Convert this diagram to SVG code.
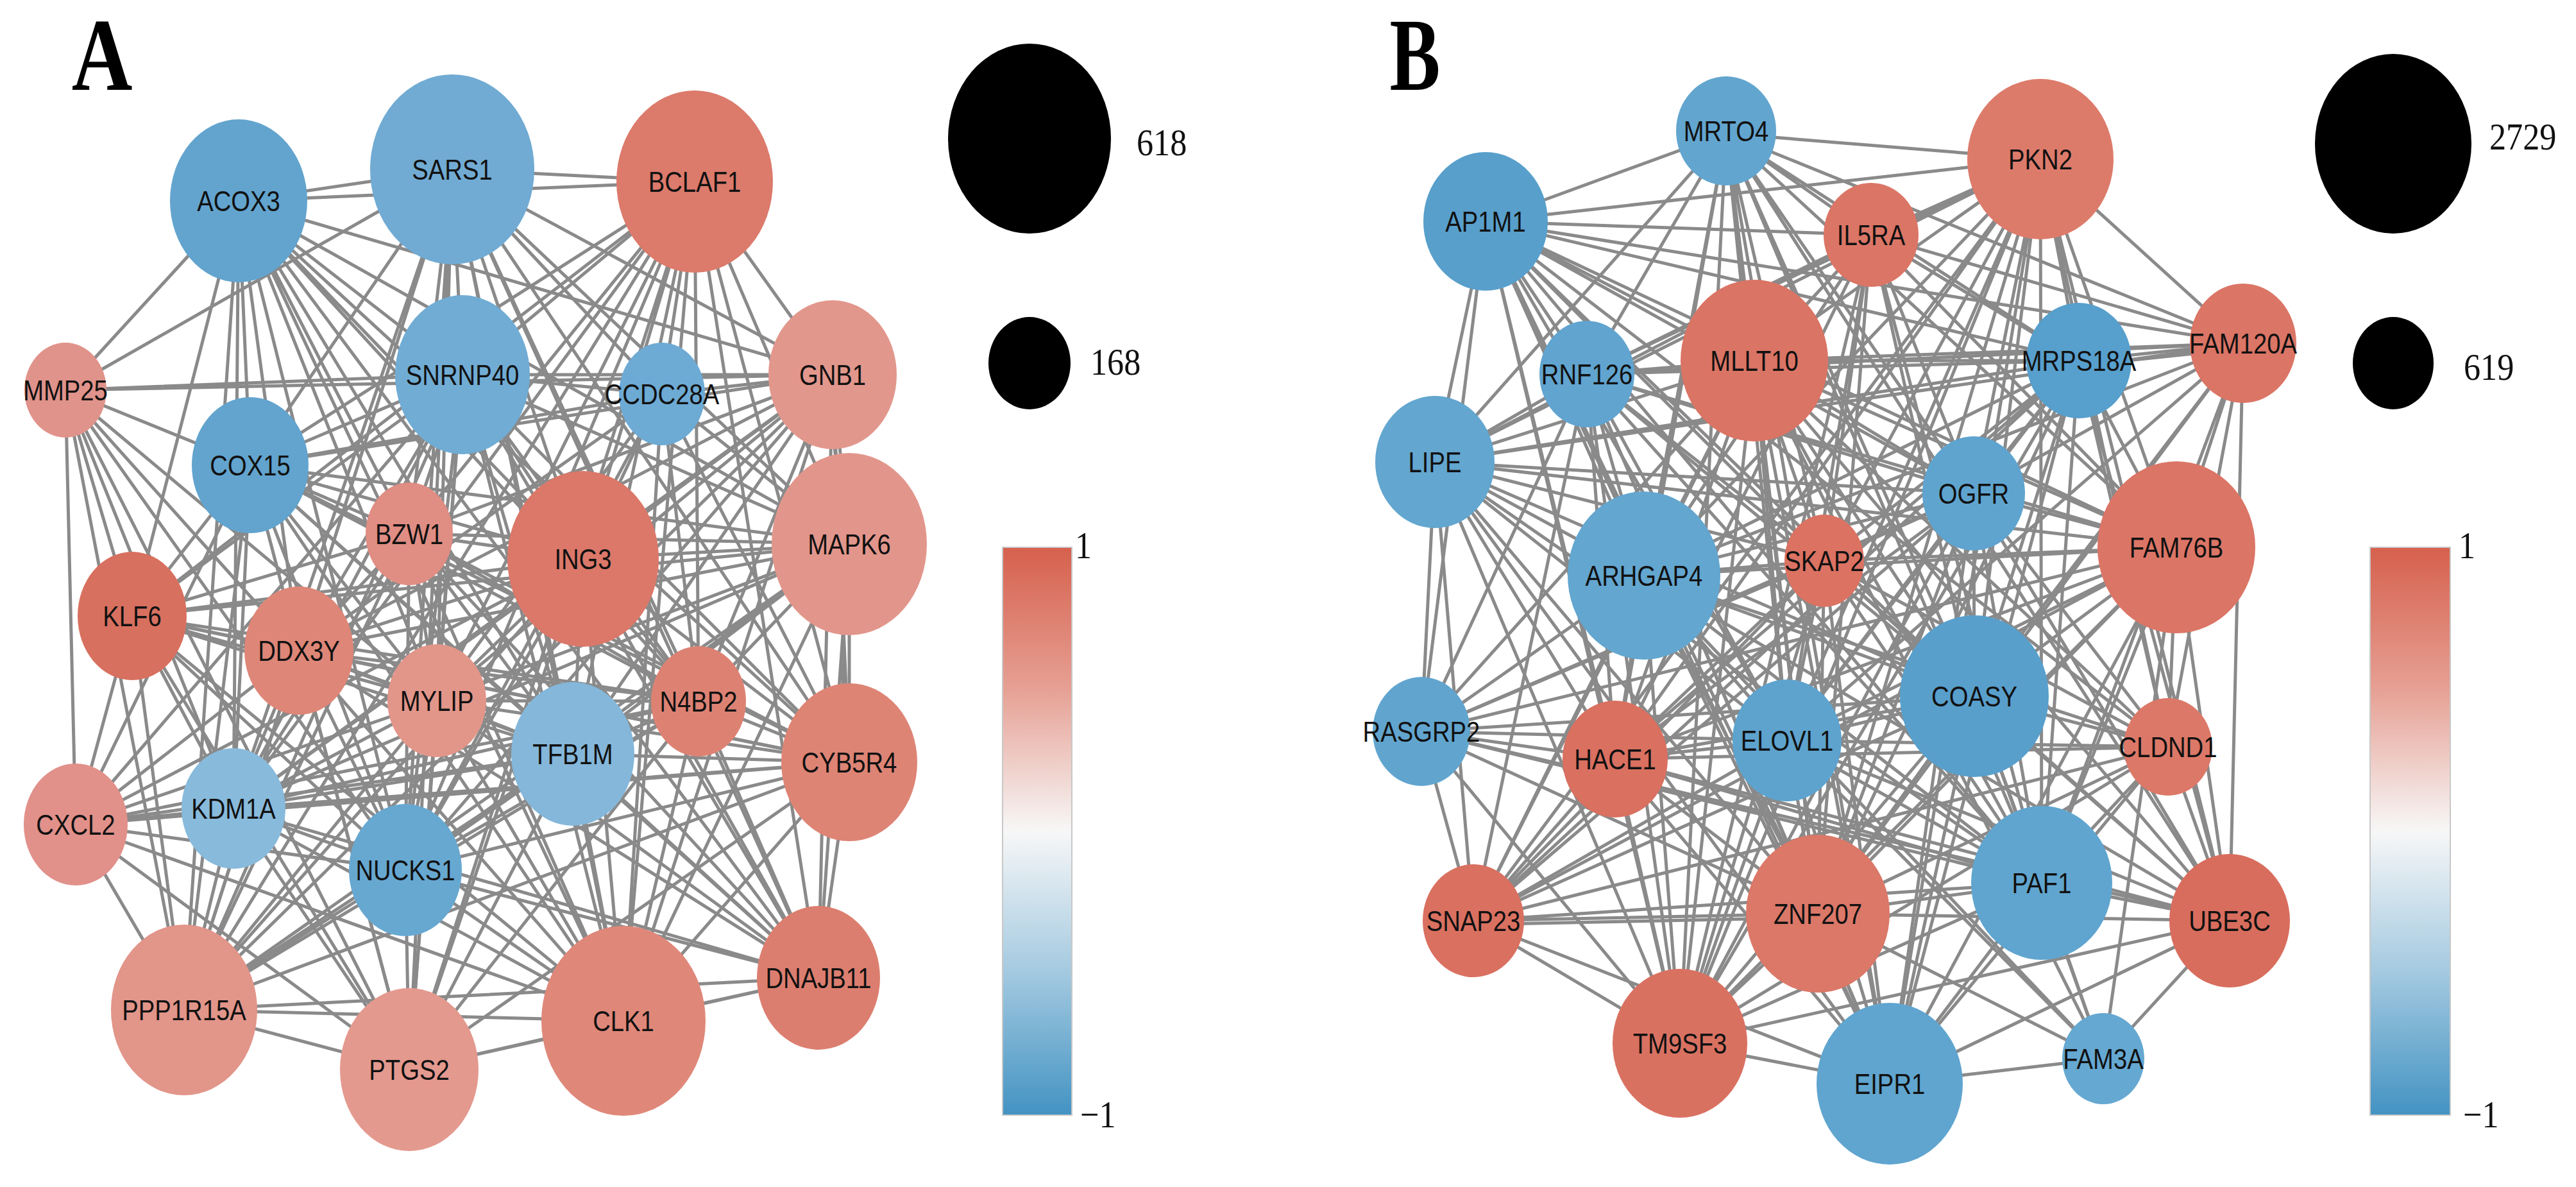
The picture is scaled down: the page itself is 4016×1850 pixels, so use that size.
<svg xmlns="http://www.w3.org/2000/svg" width="4016" height="1850" viewBox="0 0 4016 1850">
<defs>
<linearGradient id="cb" x1="0" y1="0" x2="0" y2="1">
<stop offset="0" stop-color="#D6604D"/>
<stop offset="0.25" stop-color="#E6A094"/>
<stop offset="0.5" stop-color="#F7F7F7"/>
<stop offset="0.75" stop-color="#A3C9E0"/>
<stop offset="1" stop-color="#4393C3"/>
</linearGradient>
<style>
.e{fill:none;stroke:#8A8A8A;stroke-width:5}
.n text{font-family:"Liberation Sans",Arial,sans-serif;font-size:45px;text-anchor:middle;fill:#111}
.lg{font-family:"Liberation Serif","Times New Roman",serif;font-size:60px;fill:#111}
.pl{font-family:"Liberation Serif","Times New Roman",serif;font-weight:bold;font-size:160px;text-anchor:middle;fill:#000}
.cbar{stroke:#C8C8C8;stroke-width:2}
</style>
</defs>
<rect width="4016" height="1850" fill="#FFFFFF"/>
<text class="pl" transform="translate(159 140) scale(.82 1)">A</text>
<text class="pl" transform="translate(2206 140) scale(.74 1)">B</text>
<g id="connectors">
<path class="e" d="M372 313L705 264M372 313L1083 283M372 313L102 608M372 313L721 584M372 313L1298 584M372 313L390 725M372 313L638 832M372 313L909 871M372 313L1324 848M372 313L206 960M372 313L466 1014M372 313L681 1092M372 313L893 1175M372 313L1089 1093M372 313L1324 1188M372 313L364 1260M372 313L632 1356M372 313L287 1574M372 313L972 1591M372 313L1276 1524"/>
<path class="e" d="M705 264L1083 283M705 264L102 608M705 264L721 584M705 264L1032 614M705 264L1298 584M705 264L390 725M705 264L638 832M705 264L909 871M705 264L1324 848M705 264L466 1014M705 264L681 1092M705 264L893 1175M705 264L1089 1093M705 264L1324 1188M705 264L364 1260M705 264L632 1356M705 264L287 1574M705 264L638 1667M705 264L972 1591M705 264L1276 1524"/>
<path class="e" d="M1083 283L721 584M1083 283L1032 614M1083 283L1298 584M1083 283L390 725M1083 283L638 832M1083 283L909 871M1083 283L1324 848M1083 283L206 960M1083 283L681 1092M1083 283L893 1175M1083 283L1089 1093M1083 283L1324 1188M1083 283L364 1260M1083 283L632 1356M1083 283L287 1574M1083 283L638 1667M1083 283L972 1591M1083 283L1276 1524"/>
<path class="e" d="M102 608L721 584M102 608L1298 584M102 608L390 725M102 608L206 960M102 608L466 1014M102 608L681 1092M102 608L118 1285M102 608L364 1260M102 608L632 1356M102 608L287 1574M102 608L638 1667"/>
<path class="e" d="M721 584L1032 614M721 584L1298 584M721 584L390 725M721 584L638 832M721 584L909 871M721 584L1324 848M721 584L206 960M721 584L466 1014M721 584L681 1092M721 584L893 1175M721 584L1089 1093M721 584L1324 1188M721 584L118 1285M721 584L364 1260M721 584L632 1356M721 584L287 1574M721 584L638 1667M721 584L972 1591M721 584L1276 1524"/>
<path class="e" d="M1032 614L1298 584M1032 614L390 725M1032 614L909 871M1032 614L1324 848M1032 614L466 1014M1032 614L681 1092M1032 614L1089 1093M1032 614L1324 1188M1032 614L632 1356M1032 614L972 1591"/>
<path class="e" d="M1298 584L390 725M1298 584L638 832M1298 584L909 871M1298 584L1324 848M1290 584L1316 848M1298 584L466 1014M1298 584L681 1092M1298 584L893 1175M1298 584L1089 1093M1298 584L1324 1188M1298 584L364 1260M1298 584L632 1356M1298 584L287 1574M1298 584L972 1591M1298 584L1276 1524"/>
<path class="e" d="M390 725L638 832M390 725L909 871M390 725L1324 848M390 725L206 960M390 725L466 1014M390 725L681 1092M390 725L893 1175M390 725L1089 1093M390 725L1324 1188M390 725L118 1285M390 725L364 1260M390 725L632 1356M390 725L287 1574M390 725L638 1667M390 725L972 1591M390 725L1276 1524"/>
<path class="e" d="M638 832L909 871M638 832L1324 848M638 832L206 960M638 832L466 1014M638 832L681 1092M638 832L893 1175M638 832L1089 1093M638 832L1324 1188M638 832L364 1260M638 832L632 1356M638 832L287 1574M638 832L972 1591M638 832L1276 1524"/>
<path class="e" d="M909 871L1324 848M909 871L206 960M909 871L466 1014M909 871L681 1092M909 871L893 1175M909 871L1089 1093M909 871L1324 1188M909 871L118 1285M909 871L364 1260M909 871L632 1356M909 871L287 1574M909 871L638 1667M909 871L972 1591M909 871L1276 1524"/>
<path class="e" d="M1324 848L206 960M1324 848L466 1014M1324 848L681 1092M1324 848L893 1175M1324 848L1089 1093M1324 848L1324 1188M1314 848L1314 1188M1324 848L364 1260M1324 848L632 1356M1324 848L287 1574M1324 848L972 1591M1324 848L1276 1524"/>
<path class="e" d="M206 960L466 1014M206 960L681 1092M206 960L893 1175M206 960L1089 1093M206 960L1324 1188M206 960L118 1285M206 960L364 1260M206 960L632 1356M206 960L287 1574M206 960L638 1667M206 960L972 1591"/>
<path class="e" d="M466 1014L681 1092M466 1014L893 1175M466 1014L1089 1093M466 1014L1324 1188M466 1014L118 1285M466 1014L364 1260M466 1014L632 1356M466 1014L287 1574M466 1014L638 1667M466 1014L972 1591M466 1014L1276 1524"/>
<path class="e" d="M681 1092L893 1175M681 1092L1089 1093M681 1092L1324 1188M681 1092L118 1285M681 1092L364 1260M681 1092L632 1356M681 1092L287 1574M681 1092L638 1667M681 1092L972 1591M681 1092L1276 1524"/>
<path class="e" d="M893 1175L1089 1093M893 1175L1324 1188M893 1175L118 1285M893 1175L364 1260M893 1175L632 1356M893 1175L287 1574M893 1175L638 1667M893 1175L972 1591M893 1175L1276 1524"/>
<path class="e" d="M1089 1093L1324 1188M1089 1093L118 1285M1089 1093L364 1260M1089 1093L632 1356M1089 1093L287 1574M1089 1093L638 1667M1089 1093L972 1591M1089 1093L1276 1524"/>
<path class="e" d="M1324 1188L118 1285M1324 1188L364 1260M1324 1188L632 1356M1324 1188L287 1574M1324 1188L638 1667M1324 1188L972 1591M1324 1188L1276 1524"/>
<path class="e" d="M118 1285L364 1260M118 1285L632 1356M118 1285L287 1574M118 1285L638 1667M118 1285L972 1591"/>
<path class="e" d="M364 1260L632 1356M364 1260L287 1574M364 1260L638 1667M364 1260L972 1591M364 1260L1276 1524"/>
<path class="e" d="M632 1356L287 1574M632 1356L638 1667M632 1356L972 1591M632 1356L1276 1524"/>
<path class="e" d="M287 1574L638 1667M287 1574L972 1591M287 1574L1276 1524M638 1667L972 1591M638 1667L1276 1524M972 1591L1276 1524"/>

<path class="e" d="M2691 208L2316 345M2691 208L3181 248M2691 208L2917 366M2691 208L2735 562M2691 208L2474 583M2691 208L3241 562M2691 208L3497 535M2691 208L2237 720M2691 208L3077 769M2691 208L2563 897M2691 208L2844 874M2691 208L3393 853M2691 208L2518 1183M2691 208L2786 1154M2691 208L3078 1085M2691 208L2834 1424M2691 208L3183 1376M2691 208L3476 1435M2691 208L2619 1626M2691 208L2946 1689"/>
<path class="e" d="M2316 345L3181 248M2316 345L2917 366M2316 345L2735 562M2316 345L2474 583M2316 345L3241 562M2316 345L3497 535M2316 345L2237 720M2316 345L3077 769M2316 345L2563 897M2316 345L2844 874M2316 345L3393 853M2316 345L2216 1140M2316 345L2518 1183M2316 345L2786 1154M2316 345L3078 1085M2316 345L3380 1164M2316 345L2834 1424M2316 345L3183 1376M2316 345L2619 1626M2316 345L2946 1689"/>
<path class="e" d="M3181 248L2917 366M3181 248L2735 562M3181 248L2474 583M3181 248L3241 562M3181 248L3497 535M3181 248L2237 720M3181 248L3077 769M3181 248L2563 897M3181 248L2844 874M3181 248L3393 853M3181 248L2518 1183M3181 248L2786 1154M3181 248L3078 1085M3181 248L3380 1164M3181 248L2297 1435M3181 248L2834 1424M3181 248L3183 1376M3181 248L3476 1435M3181 248L2619 1626M3181 248L2946 1689"/>
<path class="e" d="M2917 366L2735 562M2917 366L2474 583M2917 366L3241 562M2917 366L3497 535M2917 366L2237 720M2917 366L3077 769M2917 366L2563 897M2917 366L2844 874M2917 366L3393 853M2917 366L2518 1183M2917 366L2786 1154M2917 366L3078 1085M2917 366L2834 1424M2917 366L3183 1376M2917 366L2619 1626"/>
<path class="e" d="M2735 562L2474 583M2735 562L3241 562M2735 562L3497 535M2735 562L2237 720M2735 562L3077 769M2735 562L2563 897M2735 562L2844 874M2735 562L3393 853M2735 562L2216 1140M2735 562L2518 1183M2735 562L2786 1154M2735 562L3078 1085M2735 562L3380 1164M2735 562L2297 1435M2735 562L2834 1424M2735 562L3183 1376M2735 562L3476 1435M2735 562L2619 1626M2735 562L2946 1689M2735 562L3279 1650"/>
<path class="e" d="M2474 583L3241 562M2474 583L3497 535M2474 583L2237 720M2474 583L3077 769M2474 583L2563 897M2474 583L2844 874M2474 583L3393 853M2474 583L2216 1140M2474 583L2518 1183M2474 583L2786 1154M2474 583L3078 1085M2474 583L2297 1435M2474 583L2834 1424M2474 583L3183 1376M2474 583L2619 1626M2474 583L2946 1689"/>
<path class="e" d="M3241 562L3497 535M3241 570L3497 543M3241 562L2237 720M3241 562L3077 769M3241 562L2563 897M3241 562L2844 874M3241 562L3393 853M3241 562L2518 1183M3241 562L2786 1154M3241 562L3078 1085M3241 562L3380 1164M3241 562L2297 1435M3241 562L2834 1424M3241 562L3183 1376M3241 562L3476 1435M3241 562L2619 1626M3241 562L2946 1689"/>
<path class="e" d="M3497 535L2237 720M3497 535L3077 769M3497 535L2563 897M3497 535L3393 853M3497 535L2786 1154M3497 535L3078 1085M3497 535L3380 1164M3497 535L2834 1424M3497 535L3183 1376M3497 535L3476 1435"/>
<path class="e" d="M2237 720L3077 769M2237 720L2563 897M2237 720L2844 874M2237 720L3393 853M2237 720L2216 1140M2237 720L2518 1183M2237 720L2786 1154M2237 720L3078 1085M2237 720L2297 1435M2237 720L2834 1424M2237 720L3183 1376M2237 720L2619 1626M2237 720L2946 1689"/>
<path class="e" d="M3077 769L2563 897M3077 769L2844 874M3077 769L3393 853M3077 769L2216 1140M3077 769L2518 1183M3077 769L2786 1154M3077 769L3078 1085M3077 769L3380 1164M3077 769L2297 1435M3077 769L2834 1424M3077 769L3183 1376M3077 769L3476 1435M3077 769L2619 1626M3077 769L2946 1689"/>
<path class="e" d="M2563 897L2844 874M2563 897L3393 853M2563 897L2216 1140M2563 897L2518 1183M2563 897L2786 1154M2563 897L3078 1085M2563 897L3380 1164M2563 897L2297 1435M2563 897L2834 1424M2563 897L3183 1376M2563 897L3476 1435M2563 897L2619 1626M2563 897L2946 1689M2563 897L3279 1650"/>
<path class="e" d="M2844 874L3393 853M2844 874L2216 1140M2844 874L2518 1183M2844 874L2786 1154M2844 874L3078 1085M2844 874L3380 1164M2844 874L2297 1435M2844 874L2834 1424M2844 874L3183 1376M2844 874L3476 1435M2844 874L2619 1626M2844 874L2946 1689"/>
<path class="e" d="M3393 853L2216 1140M3393 853L2518 1183M3393 853L2786 1154M3393 853L3078 1085M3393 853L3380 1164M3393 853L2297 1435M3393 853L2834 1424M3393 853L3183 1376M3393 853L3476 1435M3393 853L2619 1626M3393 853L2946 1689M3393 853L3279 1650"/>
<path class="e" d="M2216 1140L2518 1183M2216 1140L2786 1154M2216 1140L3078 1085M2216 1140L2297 1435M2216 1140L2834 1424M2216 1140L3183 1376M2216 1140L3476 1435M2216 1140L2619 1626"/>
<path class="e" d="M2518 1183L2786 1154M2518 1183L3078 1085M2518 1183L3380 1164M2518 1183L2297 1435M2518 1183L2834 1424M2518 1183L3183 1376M2518 1183L3476 1435M2518 1183L2619 1626M2518 1183L2946 1689"/>
<path class="e" d="M2786 1154L3078 1085M2786 1154L3380 1164M2786 1154L2297 1435M2786 1154L2834 1424M2786 1154L3183 1376M2786 1154L3476 1435M2786 1154L2619 1626M2786 1154L2946 1689M2786 1154L3279 1650"/>
<path class="e" d="M3078 1085L3380 1164M3078 1085L2297 1435M3078 1085L2834 1424M3078 1085L3183 1376M3078 1085L3476 1435M3078 1085L2619 1626M3078 1085L2946 1689M3078 1085L3279 1650"/>
<path class="e" d="M3380 1164L2297 1435M3380 1164L2834 1424M3380 1164L3183 1376M3380 1164L3476 1435M3380 1164L2619 1626M3380 1164L2946 1689"/>
<path class="e" d="M2297 1435L2834 1424M2297 1441L2834 1430M2297 1435L3183 1376M2297 1435L2619 1626M2297 1435L2946 1689M2834 1424L3183 1376M2834 1424L3476 1435M2834 1424L2619 1626M2834 1424L2946 1689M2834 1424L3279 1650"/>
<path class="e" d="M3183 1376L3476 1435M3183 1376L2619 1626M3183 1376L2946 1689M3183 1376L3279 1650M3476 1435L2619 1626M3476 1435L2946 1689M3476 1435L3279 1650M2619 1626L2946 1689M2946 1689L3279 1650"/>
</g>

<g id="nodesA">
<g id="ACOX3" class="n" transform="translate(372 313)"><ellipse rx="107" ry="127" fill="#62A4CE"/><text transform="scale(.85 1)" y="16">ACOX3</text></g>
<g id="SARS1" class="n" transform="translate(705 264)"><ellipse rx="128" ry="148" fill="#71ABD3"/><text transform="scale(.85 1)" y="16">SARS1</text></g>
<g id="BCLAF1" class="n" transform="translate(1083 283)"><ellipse rx="122" ry="142" fill="#DC7A6B"/><text transform="scale(.85 1)" y="16">BCLAF1</text></g>
<g id="MMP25" class="n" transform="translate(102 608)"><ellipse rx="64" ry="74" fill="#E0938A"/><text transform="scale(.85 1)" y="16">MMP25</text></g>
<g id="SNRNP40" class="n" transform="translate(721 584)"><ellipse rx="105" ry="124" fill="#70ACD4"/><text transform="scale(.85 1)" y="16">SNRNP40</text></g>
<g id="CCDC28A" class="n" transform="translate(1032 614)"><ellipse rx="67" ry="80" fill="#6DAAD4"/><text transform="scale(.85 1)" y="16">CCDC28A</text></g>
<g id="GNB1" class="n" transform="translate(1298 584)"><ellipse rx="100" ry="116" fill="#E2978C"/><text transform="scale(.85 1)" y="16">GNB1</text></g>
<g id="COX15" class="n" transform="translate(390 725)"><ellipse rx="91" ry="106" fill="#62A4CE"/><text transform="scale(.85 1)" y="16">COX15</text></g>
<g id="BZW1" class="n" transform="translate(638 832)"><ellipse rx="68" ry="80" fill="#E08D83"/><text transform="scale(.85 1)" y="16">BZW1</text></g>
<g id="ING3" class="n" transform="translate(909 871)"><ellipse rx="118" ry="137" fill="#DB7869"/><text transform="scale(.85 1)" y="16">ING3</text></g>
<g id="MAPK6" class="n" transform="translate(1324 848)"><ellipse rx="121" ry="142" fill="#E2968B"/><text transform="scale(.85 1)" y="16">MAPK6</text></g>
<g id="KLF6" class="n" transform="translate(206 960)"><ellipse rx="85" ry="100" fill="#D8705F"/><text transform="scale(.85 1)" y="16">KLF6</text></g>
<g id="DDX3Y" class="n" transform="translate(466 1014)"><ellipse rx="85" ry="100" fill="#DE8677"/><text transform="scale(.85 1)" y="16">DDX3Y</text></g>
<g id="MYLIP" class="n" transform="translate(681 1092)"><ellipse rx="77" ry="88" fill="#E29689"/><text transform="scale(.85 1)" y="16">MYLIP</text></g>
<g id="TFB1M" class="n" transform="translate(893 1175)"><ellipse rx="96" ry="112" fill="#84B7DA"/><text transform="scale(.85 1)" y="16">TFB1M</text></g>
<g id="N4BP2" class="n" transform="translate(1089 1093)"><ellipse rx="74" ry="86" fill="#DD8273"/><text transform="scale(.85 1)" y="16">N4BP2</text></g>
<g id="CYB5R4" class="n" transform="translate(1324 1188)"><ellipse rx="106" ry="123" fill="#DE8475"/><text transform="scale(.85 1)" y="16">CYB5R4</text></g>
<g id="CXCL2" class="n" transform="translate(118 1285)"><ellipse rx="81" ry="95" fill="#E1918A"/><text transform="scale(.85 1)" y="16">CXCL2</text></g>
<g id="KDM1A" class="n" transform="translate(364 1260)"><ellipse rx="81" ry="94" fill="#88BADC"/><text transform="scale(.85 1)" y="16">KDM1A</text></g>
<g id="NUCKS1" class="n" transform="translate(632 1356)"><ellipse rx="88" ry="103" fill="#67A8D1"/><text transform="scale(.85 1)" y="16">NUCKS1</text></g>
<g id="PPP1R15A" class="n" transform="translate(287 1574)"><ellipse rx="114" ry="133" fill="#E29589"/><text transform="scale(.85 1)" y="16">PPP1R15A</text></g>
<g id="PTGS2" class="n" transform="translate(638 1667)"><ellipse rx="108" ry="127" fill="#E4998E"/><text transform="scale(.85 1)" y="16">PTGS2</text></g>
<g id="CLK1" class="n" transform="translate(972 1591)"><ellipse rx="128" ry="148" fill="#DF887A"/><text transform="scale(.85 1)" y="16">CLK1</text></g>
<g id="DNAJB11" class="n" transform="translate(1276 1524)"><ellipse rx="96" ry="112" fill="#DC7E6F"/><text transform="scale(.85 1)" y="16">DNAJB11</text></g>
</g>

<g id="nodesB">
<g id="MRTO4" class="n" transform="translate(2691 204)"><ellipse rx="78" ry="85" fill="#62A5CF"/><text transform="scale(.85 1)" y="16">MRTO4</text></g>
<g id="AP1M1" class="n" transform="translate(2316 345)"><ellipse rx="97" ry="108" fill="#589FCB"/><text transform="scale(.85 1)" y="16">AP1M1</text></g>
<g id="PKN2" class="n" transform="translate(3181 248)"><ellipse rx="114" ry="125" fill="#DD7B6B"/><text transform="scale(.85 1)" y="16">PKN2</text></g>
<g id="IL5RA" class="n" transform="translate(2917 366)"><ellipse rx="74" ry="81" fill="#DB7565"/><text transform="scale(.85 1)" y="16">IL5RA</text></g>
<g id="MLLT10" class="n" transform="translate(2735 562)"><ellipse rx="115" ry="126" fill="#DA7464"/><text transform="scale(.85 1)" y="16">MLLT10</text></g>
<g id="RNF126" class="n" transform="translate(2474 583)"><ellipse rx="74" ry="83" fill="#61A4CF"/><text transform="scale(.85 1)" y="16">RNF126</text></g>
<g id="MRPS18A" class="n" transform="translate(3241 562)"><ellipse rx="82" ry="90" fill="#579FCC"/><text transform="scale(.85 1)" y="16">MRPS18A</text></g>
<g id="FAM120A" class="n" transform="translate(3497 535)"><ellipse rx="83" ry="93" fill="#DB7565"/><text transform="scale(.85 1)" y="16">FAM120A</text></g>
<g id="LIPE" class="n" transform="translate(2237 720)"><ellipse rx="93" ry="103" fill="#63A6CF"/><text transform="scale(.85 1)" y="16">LIPE</text></g>
<g id="OGFR" class="n" transform="translate(3077 769)"><ellipse rx="80" ry="89" fill="#5FA4CF"/><text transform="scale(.85 1)" y="16">OGFR</text></g>
<g id="ARHGAP4" class="n" transform="translate(2563 897)"><ellipse rx="119" ry="131" fill="#63A6D0"/><text transform="scale(.85 1)" y="16">ARHGAP4</text></g>
<g id="SKAP2" class="n" transform="translate(2844 874)"><ellipse rx="62" ry="72" fill="#DB7262"/><text transform="scale(.85 1)" y="16">SKAP2</text></g>
<g id="FAM76B" class="n" transform="translate(3393 853)"><ellipse rx="123" ry="134" fill="#DB7566"/><text transform="scale(.85 1)" y="16">FAM76B</text></g>
<g id="RASGRP2" class="n" transform="translate(2216 1140)"><ellipse rx="76" ry="85" fill="#61A5CF"/><text transform="scale(.85 1)" y="16">RASGRP2</text></g>
<g id="HACE1" class="n" transform="translate(2518 1183)"><ellipse rx="82" ry="91" fill="#D97060"/><text transform="scale(.85 1)" y="16">HACE1</text></g>
<g id="ELOVL1" class="n" transform="translate(2786 1154)"><ellipse rx="85" ry="95" fill="#5DA3CE"/><text transform="scale(.85 1)" y="16">ELOVL1</text></g>
<g id="COASY" class="n" transform="translate(3078 1085)"><ellipse rx="116" ry="126" fill="#589FCC"/><text transform="scale(.85 1)" y="16">COASY</text></g>
<g id="CLDND1" class="n" transform="translate(3380 1164)"><ellipse rx="69" ry="76" fill="#DC7868"/><text transform="scale(.85 1)" y="16">CLDND1</text></g>
<g id="SNAP23" class="n" transform="translate(2297 1435)"><ellipse rx="79" ry="88" fill="#D97060"/><text transform="scale(.85 1)" y="16">SNAP23</text></g>
<g id="ZNF207" class="n" transform="translate(2834 1424)"><ellipse rx="112" ry="123" fill="#DB7868"/><text transform="scale(.85 1)" y="16">ZNF207</text></g>
<g id="PAF1" class="n" transform="translate(3183 1376)"><ellipse rx="110" ry="120" fill="#60A5CF"/><text transform="scale(.85 1)" y="16">PAF1</text></g>
<g id="UBE3C" class="n" transform="translate(3476 1435)"><ellipse rx="94" ry="104" fill="#D86D5D"/><text transform="scale(.85 1)" y="16">UBE3C</text></g>
<g id="TM9SF3" class="n" transform="translate(2619 1626)"><ellipse rx="105" ry="116" fill="#D97161"/><text transform="scale(.85 1)" y="16">TM9SF3</text></g>
<g id="EIPR1" class="n" transform="translate(2946 1689)"><ellipse rx="114" ry="126" fill="#60A5CF"/><text transform="scale(.85 1)" y="16">EIPR1</text></g>
<g id="FAM3A" class="n" transform="translate(3279 1650)"><ellipse rx="64" ry="71" fill="#65A8D1"/><text transform="scale(.85 1)" y="16">FAM3A</text></g>
</g>

<g id="legendA">
<ellipse cx="1605" cy="216" rx="127" ry="148" fill="#000"/>
<text class="lg" transform="translate(1772 242) scale(.87 1)">618</text>
<ellipse cx="1605" cy="566" rx="64" ry="72" fill="#000"/>
<text class="lg" transform="translate(1700 584) scale(.87 1)">168</text>
<rect class="cbar" x="1563" y="853" width="108" height="885" fill="url(#cb)"/>
<text class="lg" transform="translate(1676 870) scale(.87 1)">1</text>
<text class="lg" transform="translate(1684 1757) scale(.87 1)">−1</text>
</g>
<g id="legendB">
<ellipse cx="3731" cy="224" rx="122" ry="140" fill="#000"/>
<text class="lg" transform="translate(3881 233) scale(.87 1)">2729</text>
<ellipse cx="3731" cy="566" rx="63" ry="72" fill="#000"/>
<text class="lg" transform="translate(3841 592) scale(.87 1)">619</text>
<rect class="cbar" x="3695" y="853" width="125" height="885" fill="url(#cb)"/>
<text class="lg" transform="translate(3833 870) scale(.87 1)">1</text>
<text class="lg" transform="translate(3840 1757) scale(.87 1)">−1</text>
</g>
</svg>
